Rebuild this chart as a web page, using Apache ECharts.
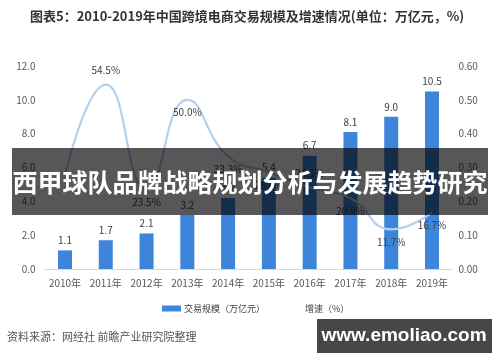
<!DOCTYPE html>
<html>
<head>
<meta charset="utf-8">
<script src="https://cdn.jsdelivr.net/npm/echarts@6/dist/echarts.min.js"></script>
<style>
html,body{margin:0;padding:0;background:#fff;}
#c{width:500px;height:362px;}
</style>
</head>
<body>
<div id="c"></div>
<script>
const categories = ['2010年','2011年','2012年','2013年','2014年','2015年','2016年','2017年','2018年','2019年'];
const volume = [1.1, 1.7, 2.1, 3.2, 4.2, 5.4, 6.7, 8.1, 9.0, 10.5];
const growth = [0.28, 0.545, 0.235, 0.50, 0.333, 0.286, 0.241, 0.209, 0.117, 0.167];
const growthLabels = ['', '54.5%', '23.5%', '50.0%', '33.3%', '28.6%', '24.1%', '20.9%', '11.7%', '16.7%'];
const leftTicks = [0, 2, 4, 6, 8, 10, 12];
const rightTicks = [0, 0.1, 0.2, 0.3, 0.4, 0.5, 0.6];
const seriesNames = ['交易规模（万亿元）', '增速（%）'];
const titleText = '图表5：2010-2019年中国跨境电商交易规模及增速情况(单位：万亿元，%)';
const bannerText = '西甲球队品牌战略规划分析与发展趋势研究';
const sourceText = '资料来源：网经社 前瞻产业研究院整理';
const watermarkText = 'www.emoliao.com';

const labelPos = ['top','top','bottom','bottom','bottom','bottom','top','bottom','bottom','bottom'];
const FONT = '"Noto Sans CJK SC", "Noto Sans", sans-serif';

const chart = echarts.init(document.getElementById('c'));
chart.setOption({
  animation: false,
  backgroundColor: '#fff',
  textStyle: { fontFamily: FONT },
  grid: { left: 44.6, right: 47.6, top: 66, bottom: 93 },
  legend: {
    top: 299, left: 157, itemGap: 18, itemWidth: 19, itemHeight: 6,
    textStyle: { fontSize: 9, color: '#404040', fontFamily: FONT, padding: [0, 0, 0, -2] },
    data: [
      { name: seriesNames[0], icon: 'rect' },
      { name: seriesNames[1], icon: 'path://M0,0 L20,0 L20,2 L0,2 Z' }
    ]
  },
  xAxis: {
    type: 'category', data: categories,
    axisLine: { lineStyle: { color: '#d9d9d9', width: 1 } },
    axisTick: { show: false },
    axisLabel: { color: '#595959', fontSize: 10, margin: 9, interval: 0 }
  },
  yAxis: [
    { type: 'value', min: leftTicks[0], max: leftTicks[leftTicks.length-1], interval: 2,
      splitLine: { show: false }, axisLine: { show: false }, axisTick: { show: false },
      axisLabel: { color: '#595959', fontSize: 10, margin: 9, formatter: v => v.toFixed(1) } },
    { type: 'value', min: rightTicks[0], max: rightTicks[rightTicks.length-1], interval: 0.1,
      splitLine: { show: false }, axisLine: { show: false }, axisTick: { show: false },
      axisLabel: { color: '#595959', fontSize: 10, margin: 6, formatter: v => v.toFixed(2) } }
  ],
  series: [
    { name: seriesNames[0], type: 'bar', data: volume, barWidth: 14,
      itemStyle: { color: '#3d84db' },
      label: { show: true, position: 'top', distance: 5, color: '#404040', fontSize: 10,
        formatter: p => p.value.toFixed(1) } },
    { name: seriesNames[1], type: 'line', yAxisIndex: 1, smooth: 0.5,
      symbol: 'circle', symbolSize: 1, showSymbol: true,
      lineStyle: { color: '#b4d0ef', width: 2.2 },
      itemStyle: { color: 'rgba(169,201,236,0)' },
      label: { show: true, color: '#404040', fontSize: 10 },
      data: growth.map((v, i) => ({ value: v, label: { show: growthLabels[i] !== '', position: labelPos[i], distance: labelPos[i] === 'top' ? 9 : 7, formatter: growthLabels[i] } })),
      z: 3 }
  ],
  graphic: [
    { type: 'text', left: 30, top: 10, z: 10,
      style: { text: titleText, fill: '#333', font: 'bold 13px ' + FONT } },
    { type: 'text', left: 7, top: 331, z: 10,
      style: { text: sourceText, fill: '#555', font: '11px ' + FONT } },
    { type: 'text', right: 9, top: 331, z: 10,
      style: { text: '@前瞻经济学人APP', fill: '#777', font: '11px ' + FONT } },
    { type: 'rect', shape: { x: 12, y: 148, width: 476, height: 67 }, z: 20,
      style: { fill: 'rgba(0,0,0,0.66)' } },
    { type: 'text', x: 250, y: 182, z: 21,
      style: { text: bannerText, fill: '#fff', font: 'bold 25px ' + FONT, textAlign: 'center', textVerticalAlign: 'middle' } },
    { type: 'rect', shape: { x: 317, y: 319, width: 175, height: 34 }, z: 20,
      style: { fill: '#474747' } },
    { type: 'text', x: 404, y: 336, z: 21,
      style: { text: watermarkText, fill: '#fff', font: 'bold 19px "Liberation Sans", Arial, sans-serif', textAlign: 'center', textVerticalAlign: 'middle' } }
  ]
});
</script>
</body>
</html>
